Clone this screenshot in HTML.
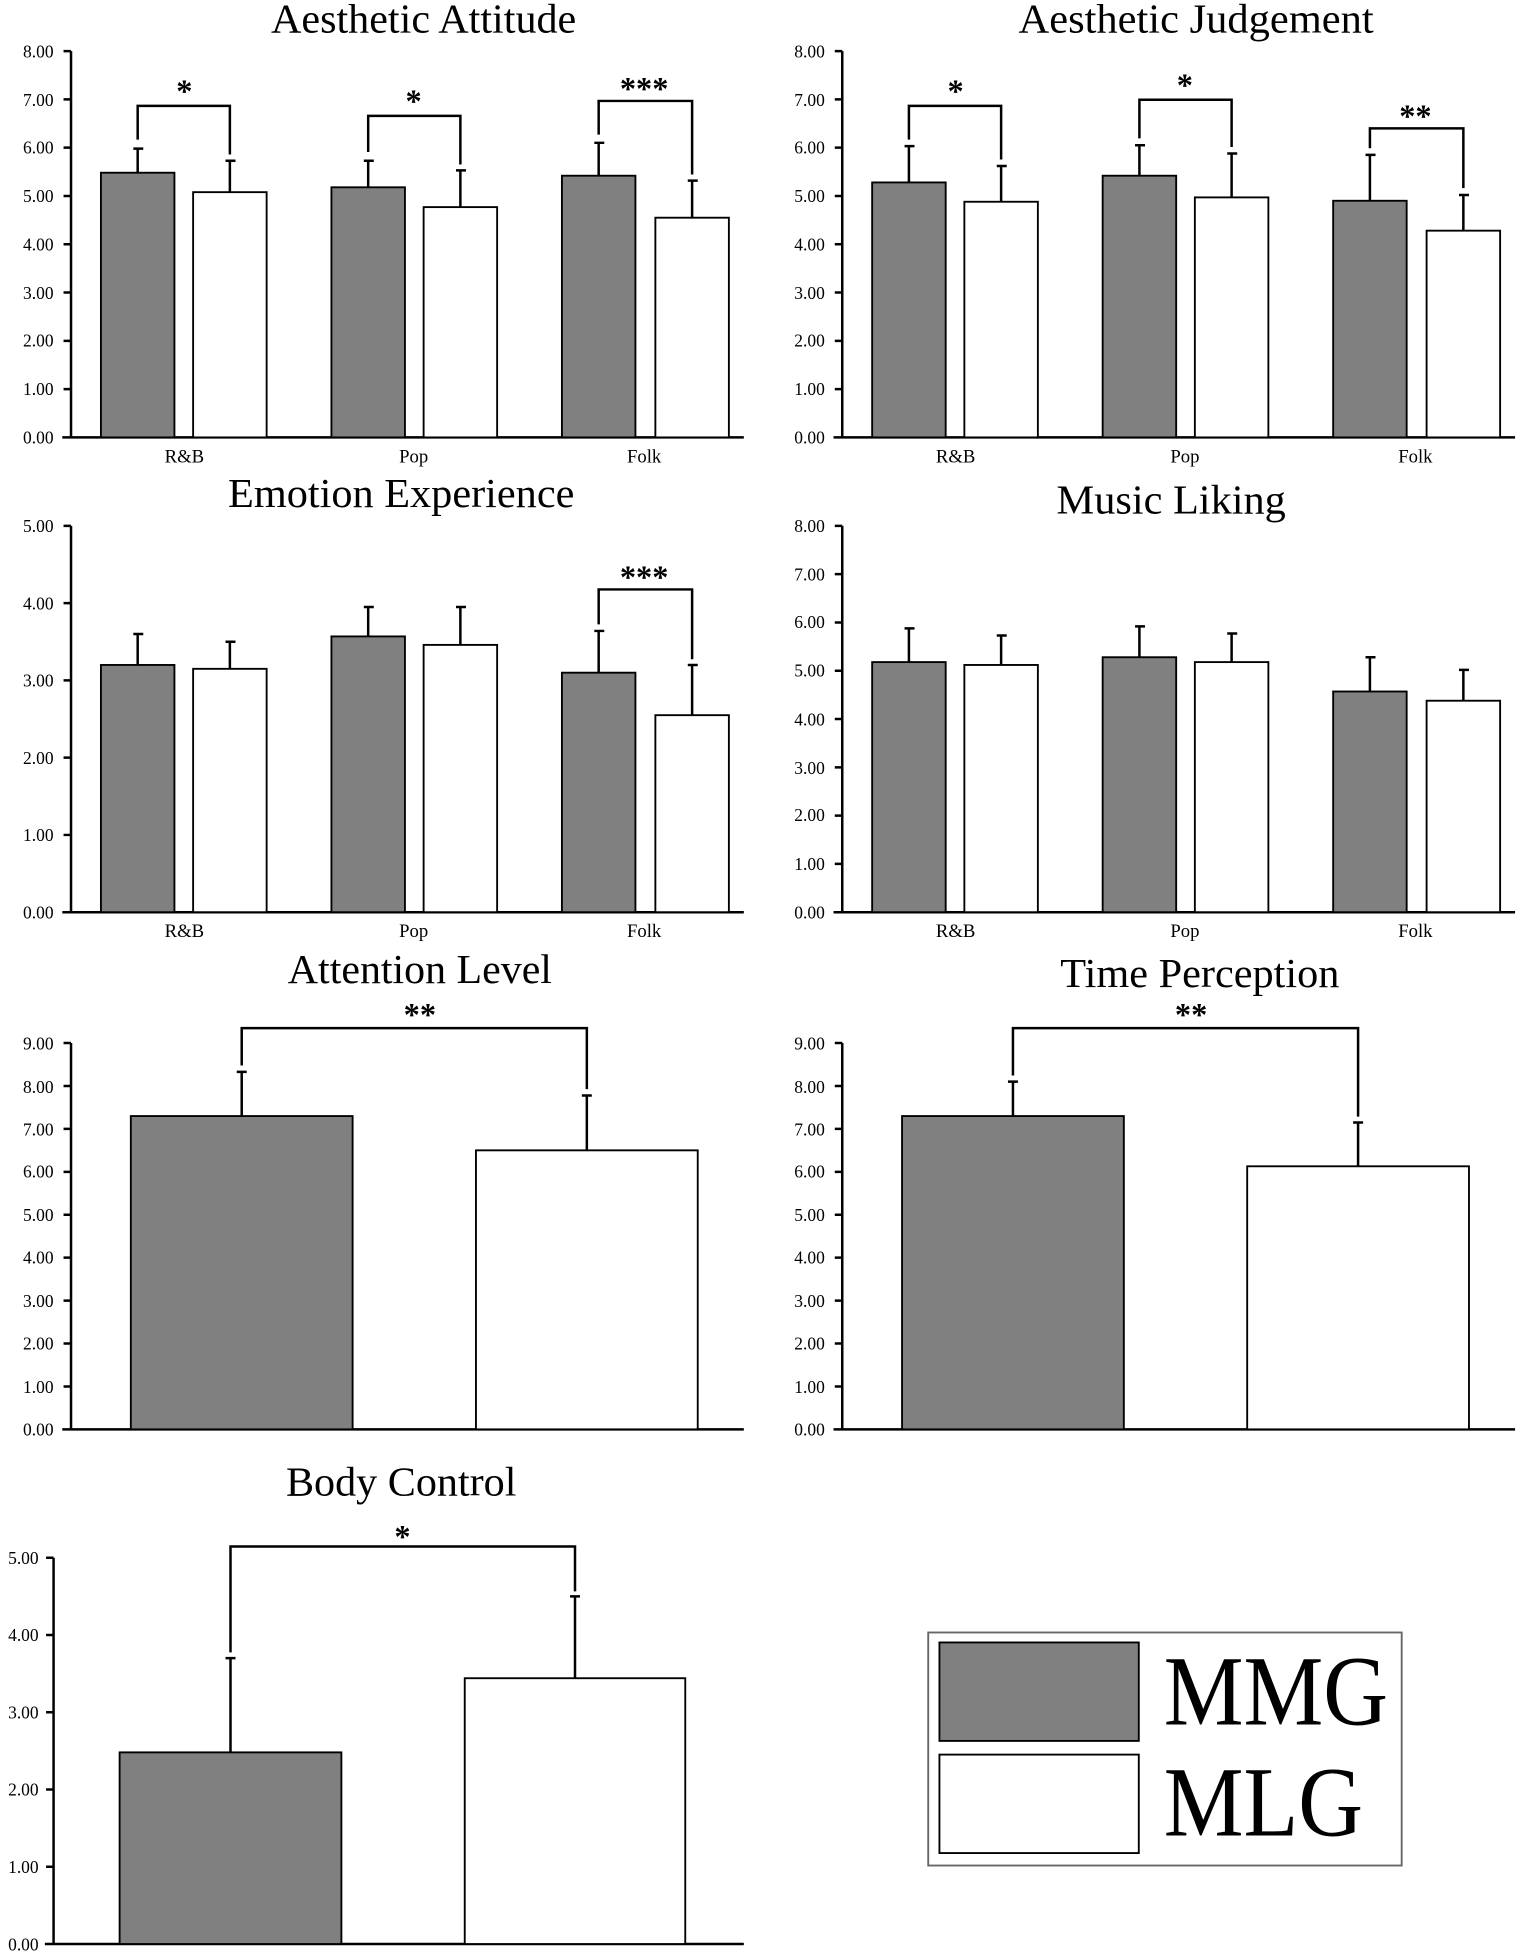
<!DOCTYPE html>
<html><head><meta charset="utf-8"><style>html,body{margin:0;padding:0;background:#fff}svg{display:block}</style></head>
<body>
<svg width="1535" height="1954" viewBox="0 0 1232 1568" preserveAspectRatio="none" xmlns="http://www.w3.org/2000/svg" font-family="Liberation Serif, serif">
<defs>
<g id="ax8">
<path d="M57 41V351M50 351H597M51 41H57M51 79.75H57M51 118.5H57M51 157.25H57M51 196H57M51 234.75H57M51 273.5H57M51 312.25H57" stroke="#000" stroke-width="2" fill="none"/>
<g font-size="14" text-anchor="end" stroke="none"><text x="43" y="46">8.00</text><text x="43" y="85">7.00</text><text x="43" y="123">6.00</text><text x="43" y="162">5.00</text><text x="43" y="201">4.00</text><text x="43" y="240">3.00</text><text x="43" y="278">2.00</text><text x="43" y="317">1.00</text><text x="43" y="356">0.00</text></g>
<g font-size="15" text-anchor="middle" stroke="none"><text x="148" y="371">R&amp;B</text><text x="332" y="371">Pop</text><text x="517" y="371">Folk</text></g>
</g>
<g id="ax5">
<path d="M57 41V351M50 351H597M51 41H57M51 103H57M51 165H57M51 227H57M51 289H57" stroke="#000" stroke-width="2" fill="none"/>
<g font-size="14" text-anchor="end" stroke="none"><text x="43" y="46">5.00</text><text x="43" y="108">4.00</text><text x="43" y="170">3.00</text><text x="43" y="232">2.00</text><text x="43" y="294">1.00</text><text x="43" y="356">0.00</text></g>
<g font-size="15" text-anchor="middle" stroke="none"><text x="148" y="371">R&amp;B</text><text x="332" y="371">Pop</text><text x="517" y="371">Folk</text></g>
</g>
<g id="ax9">
<path d="M57 837V1147M50 1147H597M51 837H57M51 871.5H57M51 905.9H57M51 940.4H57M51 974.8H57M51 1009.2H57M51 1043.7H57M51 1078.1H57M51 1112.6H57" stroke="#000" stroke-width="2" fill="none"/>
<g font-size="14" text-anchor="end" stroke="none"><text x="43" y="842">9.00</text><text x="43" y="877">8.00</text><text x="43" y="911">7.00</text><text x="43" y="945">6.00</text><text x="43" y="980">5.00</text><text x="43" y="1014">4.00</text><text x="43" y="1049">3.00</text><text x="43" y="1083">2.00</text><text x="43" y="1118">1.00</text><text x="43" y="1152">0.00</text></g>
</g>
</defs>
<g stroke="#000" stroke-width="1.5">
<g font-size="33" text-anchor="middle" stroke="none">
<text x="340" y="26" textLength="245" lengthAdjust="spacingAndGlyphs">Aesthetic Attitude</text>
<text x="960" y="26" textLength="285" lengthAdjust="spacingAndGlyphs">Aesthetic Judgement</text>
<text x="322" y="407" textLength="278" lengthAdjust="spacingAndGlyphs">Emotion Experience</text>
<text x="940" y="412" textLength="184" lengthAdjust="spacingAndGlyphs">Music Liking</text>
<text x="337" y="789" textLength="212" lengthAdjust="spacingAndGlyphs">Attention Level</text>
<text x="963" y="792" textLength="224" lengthAdjust="spacingAndGlyphs">Time Perception</text>
<text x="322" y="1200" textLength="185" lengthAdjust="spacingAndGlyphs">Body Control</text>
</g>
<!-- Panel A -->
<use href="#ax8"/>
<rect x="81" y="138.6" width="59" height="212.4" fill="#808080"/><rect x="155" y="154.2" width="59" height="196.8" fill="#fff"/>
<rect x="266" y="150.3" width="59" height="200.7" fill="#808080"/><rect x="340" y="166.2" width="59" height="184.8" fill="#fff"/>
<rect x="451" y="141" width="59" height="210" fill="#808080"/><rect x="526" y="174.7" width="59" height="176.3" fill="#fff"/>
<path d="M110.5 138.6V119.3M107 119.3H115M184.5 154.2V129M181 129H189M295.5 150.3V129M292 129H300M369.5 166.2V136.7M366 136.7H374M480.5 141V114.6M477 114.6H485M555.5 174.7V144.9M552 144.9H560" fill="none" stroke-width="2"/>
<path d="M110.5 112V85H184.5V124M295.5 122V93H369.5V132M480.5 108V81H555.5V140" fill="none" stroke-width="2"/>
<g font-size="26" font-weight="bold" text-anchor="middle" stroke="none"><text x="148" y="82">*</text><text x="332" y="90">*</text><text x="517" y="80">***</text></g>

<!-- Panel B -->
<g transform="translate(619,0)">
<use href="#ax8"/>
<rect x="81" y="146.4" width="59" height="204.6" fill="#808080"/><rect x="155" y="161.9" width="59" height="189.1" fill="#fff"/>
<rect x="266" y="141" width="59" height="210" fill="#808080"/><rect x="340" y="158.4" width="59" height="192.6" fill="#fff"/>
<rect x="451" y="161.1" width="59" height="189.9" fill="#808080"/><rect x="526" y="185.1" width="59" height="165.9" fill="#fff"/>
<path d="M110.5 146.4V117.3M107 117.3H115M184.5 161.9V133.2M181 133.2H189M295.5 141V116.6M292 116.6H300M369.5 158.4V123.2M366 123.2H374M480.5 161.1V124.3M477 124.3H485M555.5 185.1V156.5M552 156.5H560" fill="none" stroke-width="2"/>
<path d="M110.5 112V85H184.5V128M295.5 111V80H369.5V118M480.5 119V103H555.5V151" fill="none" stroke-width="2"/>
<g font-size="26" font-weight="bold" text-anchor="middle" stroke="none"><text x="148" y="82">*</text><text x="332" y="77">*</text><text x="517" y="102">**</text></g>
</g>

<!-- Panel C -->
<g transform="translate(0,381)">
<use href="#ax5"/>
<rect x="81" y="152.6" width="59" height="198.4" fill="#808080"/><rect x="155" y="155.7" width="59" height="195.3" fill="#fff"/>
<rect x="266" y="129.7" width="59" height="221.3" fill="#808080"/><rect x="340" y="136.5" width="59" height="214.5" fill="#fff"/>
<rect x="451" y="158.8" width="59" height="192.2" fill="#808080"/><rect x="526" y="192.9" width="59" height="158.1" fill="#fff"/>
<path d="M110.5 152.6V127.8M107 127.8H115M184.5 155.7V134M181 134H189M295.5 129.7V106.1M292 106.1H300M369.5 136.5V106.1M366 106.1H374M480.5 158.8V125.3M477 125.3H485M555.5 192.9V152.6M552 152.6H560" fill="none" stroke-width="2"/>
<path d="M480.5 120V92H555.5V148" fill="none" stroke-width="2"/>
<text x="517" y="91" font-size="26" font-weight="bold" text-anchor="middle" stroke="none">***</text>
</g>

<!-- Panel D -->
<g transform="translate(619,381)">
<use href="#ax8"/>
<rect x="81" y="150.3" width="59" height="200.7" fill="#808080"/><rect x="155" y="152.6" width="59" height="198.4" fill="#fff"/>
<rect x="266" y="146.4" width="59" height="204.6" fill="#808080"/><rect x="340" y="150.3" width="59" height="200.7" fill="#fff"/>
<rect x="451" y="173.9" width="59" height="177.1" fill="#808080"/><rect x="526" y="181.3" width="59" height="169.7" fill="#fff"/>
<path d="M110.5 150.3V123.2M107 123.2H115M184.5 152.6V129M181 129H189M295.5 146.4V121.6M292 121.6H300M369.5 150.3V127.4M366 127.4H374M480.5 173.9V146.4M477 146.4H485M555.5 181.3V156.5M552 156.5H560" fill="none" stroke-width="2"/>
</g>

<!-- Panel E -->
<use href="#ax9"/>
<rect x="105" y="895.6" width="178" height="251.4" fill="#808080"/><rect x="382" y="923.1" width="178" height="223.9" fill="#fff"/>
<path d="M194 895.6V860.1M190 860.1H198M471 923.1V879.1M467 879.1H475" fill="none" stroke-width="2"/>
<path d="M194 855V825H471V874" fill="none" stroke-width="2"/>
<text x="337" y="823" font-size="26" font-weight="bold" text-anchor="middle" stroke="none">**</text>

<!-- Panel F -->
<g transform="translate(619,0)">
<use href="#ax9"/>
<rect x="105" y="895.6" width="178" height="251.4" fill="#808080"/><rect x="382" y="935.9" width="178" height="211.1" fill="#fff"/>
<path d="M194 895.6V868M190 868H198M471 935.9V900.8M467 900.8H475" fill="none" stroke-width="2"/>
<path d="M194 863V825H471V896" fill="none" stroke-width="2"/>
<text x="337" y="823" font-size="26" font-weight="bold" text-anchor="middle" stroke="none">**</text>
</g>

<!-- Panel G -->
<path d="M43 1250V1560M36 1560H597M37 1250H43M37 1312H43M37 1374H43M37 1436H43M37 1498H43" stroke-width="2" fill="none"/>
<g font-size="14" text-anchor="end" stroke="none"><text x="31" y="1255">5.00</text><text x="31" y="1317">4.00</text><text x="31" y="1379">3.00</text><text x="31" y="1441">2.00</text><text x="31" y="1503">1.00</text><text x="31" y="1565">0.00</text></g>
<rect x="96" y="1406.2" width="178" height="153.8" fill="#808080"/><rect x="373" y="1346.7" width="177" height="213.3" fill="#fff"/>
<path d="M185 1406.2V1330.6M181 1330.6H189M461.5 1346.7V1281M457.5 1281H465.5" fill="none" stroke-width="2"/>
<path d="M185 1326V1241H461.5V1277" fill="none" stroke-width="2"/>
<text x="323" y="1242" font-size="26" font-weight="bold" text-anchor="middle" stroke="none">*</text>

<!-- Legend -->
<rect x="745" y="1310" width="380" height="187" fill="#fff" stroke="#666"/>
<rect x="754" y="1318" width="160" height="79" fill="#808080"/>
<rect x="754" y="1408" width="160" height="79" fill="#fff"/>
<g font-size="80" stroke="none"><text x="934" y="1384" textLength="180" lengthAdjust="spacingAndGlyphs">MMG</text><text x="934" y="1473" textLength="160" lengthAdjust="spacingAndGlyphs">MLG</text></g>
</g>
</svg>
</body></html>
